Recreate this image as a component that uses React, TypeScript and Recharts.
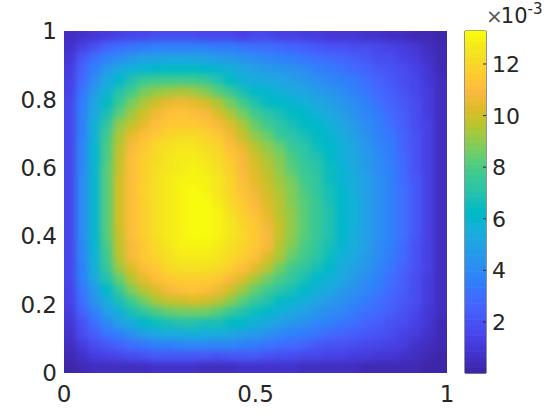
import React from "react";
import { ScatterChart, Scatter, XAxis, YAxis, ReferenceArea } from "recharts";

const xTicks = [0, 0.5, 1];
const yTicks = [0, 0.2, 0.4, 0.6, 0.8, 1];
const barTicks = [2, 4, 6, 8, 10, 12];
const valueMin = 0.02;
const valueMax = 13.28;

// field values (x 10^-3), rows from top (y=1) to bottom (y=0), columns from x=0 to x=1
const fieldRows: number[][] = [
  [.4,.7,.9,1.1,1.3,1.4,1.5,1.6,1.6,1.6,1.6,1.5,1.5,1.4,1.3,1.4,1.4,1.3,1.2,1.1,1.0,.9,.8,.8,.7,.6,.5,.4,.3,.2,.1],
  [.6,1.3,2.0,2.5,2.9,3.2,3.4,3.5,3.6,3.6,3.6,3.5,3.4,3.3,3.1,3.0,2.9,2.7,2.6,2.4,2.2,2.0,1.9,1.7,1.6,1.4,1.2,1.0,.8,.5,.2],
  [.9,2.1,3.0,3.6,4.1,4.5,4.8,4.9,5.0,5.1,5.0,4.9,4.7,4.5,4.2,4.0,3.8,3.6,3.4,3.2,3.0,2.7,2.5,2.3,2.1,1.8,1.6,1.3,1.0,.7,.3],
  [1.1,2.5,3.6,4.5,5.2,5.7,6.0,6.2,6.3,6.3,6.3,6.1,5.9,5.6,5.2,4.8,4.6,4.4,4.2,4.0,3.7,3.4,3.1,2.8,2.5,2.2,1.9,1.6,1.2,.8,.3],
  [1.2,2.8,4.0,5.2,6.2,7.0,7.5,7.8,7.9,7.9,7.8,7.5,7.0,6.4,5.8,5.4,5.2,5.0,4.8,4.5,4.2,3.9,3.6,3.3,2.9,2.5,2.2,1.8,1.4,.9,.4],
  [1.3,3.2,4.6,5.8,7.0,7.9,8.6,9.0,9.3,9.4,9.2,8.8,8.3,7.6,6.8,6.1,5.9,5.6,5.3,5.0,4.7,4.4,4.0,3.6,3.2,2.8,2.4,2.0,1.5,1.0,.4],
  [1.4,3.4,5.0,6.3,7.7,8.7,9.4,10.1,10.6,10.8,10.6,10.2,9.5,8.7,7.8,6.9,6.4,6.1,5.9,5.6,5.2,4.8,4.4,4.0,3.5,3.0,2.6,2.1,1.6,1.1,.4],
  [1.5,3.5,5.3,6.8,8.3,9.3,10.1,10.7,11.1,11.3,11.2,10.9,10.3,9.5,8.6,7.8,7.1,6.7,6.3,6.1,5.7,5.2,4.8,4.3,3.8,3.3,2.8,2.3,1.7,1.1,.4],
  [1.5,3.6,5.6,7.4,9.0,9.9,10.6,11.1,11.5,11.7,11.7,11.4,11.0,10.3,9.4,8.5,7.8,7.2,6.8,6.4,6.1,5.6,5.1,4.6,4.1,3.5,3.0,2.4,1.8,1.2,.5],
  [1.5,3.7,5.8,7.8,9.5,10.6,11.2,11.7,12.1,12.2,12.2,12.0,11.6,10.8,9.9,9.1,8.4,7.7,7.2,6.8,6.3,5.9,5.4,4.9,4.3,3.7,3.1,2.5,1.9,1.2,.5],
  [1.5,3.8,5.9,8.0,9.8,11.0,11.7,12.2,12.5,12.6,12.6,12.3,12.0,11.2,10.5,9.8,9.1,8.4,7.7,7.2,6.6,6.1,5.6,5.1,4.5,3.9,3.3,2.6,1.9,1.3,.5],
  [1.5,3.9,6.0,8.1,10.0,11.1,11.8,12.3,12.6,12.8,12.8,12.6,12.2,11.6,10.9,10.2,9.5,8.8,8.0,7.4,6.9,6.3,5.8,5.2,4.6,4.0,3.4,2.7,2.0,1.3,.5],
  [1.5,3.9,6.0,8.2,10.0,11.1,11.9,12.4,12.7,12.9,13.0,12.8,12.4,11.8,11.0,10.4,9.7,9.0,8.3,7.7,7.1,6.5,5.9,5.3,4.7,4.1,3.5,2.8,2.0,1.3,.5],
  [1.5,4.0,6.0,8.3,10.1,11.1,11.9,12.5,12.8,13.0,13.1,13.0,12.6,12.0,11.2,10.6,10.0,9.3,8.6,7.9,7.3,6.6,6.0,5.4,4.8,4.2,3.5,2.8,2.1,1.3,.5],
  [1.5,4.0,6.0,8.3,10.1,11.1,12.0,12.5,12.9,13.1,13.2,13.1,12.7,12.1,11.3,10.8,10.2,9.5,8.8,8.1,7.4,6.7,6.1,5.5,4.9,4.2,3.6,2.9,2.1,1.3,.5],
  [1.5,4.0,6.0,8.3,10.1,11.1,11.9,12.5,12.9,13.15,13.25,13.2,12.9,12.3,11.5,11.0,10.3,9.6,8.9,8.2,7.5,6.8,6.2,5.6,4.9,4.3,3.6,2.9,2.1,1.3,.5],
  [1.5,4.0,6.0,8.3,10.1,11.1,11.9,12.5,12.9,13.1,13.25,13.2,13.0,12.5,11.8,11.2,10.5,9.8,9.0,8.3,7.6,6.9,6.2,5.6,4.9,4.3,3.6,2.9,2.1,1.3,.5],
  [1.5,4.0,6.0,8.3,10.1,11.1,11.9,12.5,12.9,13.1,13.25,13.2,13.0,12.6,12.1,11.6,10.8,9.9,9.0,8.3,7.6,6.9,6.2,5.6,4.9,4.3,3.6,2.9,2.1,1.3,.5],
  [1.5,4.0,6.0,8.2,10.0,11.1,11.8,12.4,12.9,13.1,13.25,13.2,13.0,12.6,12.2,11.7,11.0,10.0,9.1,8.3,7.6,6.9,6.2,5.5,4.9,4.2,3.6,2.9,2.1,1.3,.5],
  [1.5,3.9,6.0,8.1,9.9,11.0,11.7,12.3,12.7,13.0,13.1,13.1,12.9,12.5,12.1,11.6,10.9,9.8,8.8,8.1,7.4,6.7,6.0,5.4,4.8,4.1,3.5,2.8,2.0,1.3,.5],
  [1.5,3.8,5.8,7.8,9.6,10.9,11.5,12.0,12.5,12.8,12.9,12.8,12.6,12.2,11.8,11.2,10.4,9.4,8.4,7.8,7.1,6.5,5.8,5.2,4.6,4.0,3.4,2.7,2.0,1.2,.5],
  [1.4,3.7,5.6,7.5,9.2,10.4,11.1,11.7,12.2,12.4,12.5,12.4,12.2,11.8,11.2,10.5,9.6,8.7,7.9,7.3,6.7,6.1,5.5,4.9,4.4,3.8,3.2,2.6,1.9,1.2,.5],
  [1.4,3.5,5.2,7.0,8.5,9.7,10.5,11.1,11.6,11.8,11.9,11.8,11.5,11.0,10.3,9.5,8.7,8.0,7.3,6.8,6.2,5.7,5.2,4.6,4.1,3.6,3.0,2.4,1.8,1.1,.5],
  [1.3,3.2,4.7,6.2,7.6,8.8,9.7,10.4,10.9,11.2,11.3,11.2,10.8,10.1,9.3,8.5,7.9,7.2,6.7,6.2,5.7,5.2,4.7,4.3,3.8,3.3,2.8,2.3,1.7,1.1,.5],
  [1.2,2.9,4.2,5.5,6.8,7.8,8.7,9.4,9.9,10.2,10.3,10.1,9.7,9.0,8.2,7.5,7.0,6.4,5.9,5.5,5.1,4.7,4.3,3.9,3.4,3.0,2.6,2.1,1.6,1.0,.4],
  [1.1,2.5,3.7,4.8,5.8,6.8,7.4,8.0,8.5,8.7,8.7,8.6,8.2,7.6,7.0,6.6,6.2,5.7,5.3,4.9,4.5,4.1,3.8,3.4,3.0,2.7,2.3,1.9,1.4,.9,.4],
  [.9,2.0,3.0,3.9,4.8,5.5,6.1,6.5,6.8,6.9,6.9,6.8,6.7,6.4,6.1,5.7,5.3,4.9,4.5,4.2,3.9,3.5,3.2,2.9,2.6,2.3,2.0,1.6,1.2,.8,.3],
  [.7,1.6,2.4,3.1,3.7,4.3,4.8,5.2,5.4,5.5,5.6,5.5,5.4,5.2,4.9,4.6,4.3,3.9,3.6,3.3,3.1,2.8,2.6,2.4,2.1,1.9,1.6,1.3,1.0,.6,.3],
  [.5,1.1,1.6,2.1,2.5,2.9,3.2,3.5,3.7,3.8,3.9,3.9,3.9,3.8,3.6,3.4,3.1,2.9,2.7,2.5,2.2,2.0,1.9,1.7,1.5,1.4,1.2,1.0,.7,.5,.2],
  [.3,.7,1.0,1.3,1.5,1.7,1.9,2.1,2.1,2.1,2.2,2.1,2.0,2.1,2.1,2.1,1.9,1.7,1.6,1.5,1.4,1.3,1.2,1.1,1.0,.9,.8,.6,.5,.3,.1],
  [.1,.3,.5,.5,.4,.4,.5,.6,.6,.6,.6,.5,.4,.5,.6,.7,.7,.6,.6,.5,.5,.5,.4,.4,.3,.3,.3,.2,.2,.1,.1],
];

// parula colormap, 64 levels
const parula: number[][] = [
  [.2422,.1504,.6603],[.2504,.1650,.7076],[.2578,.1818,.7511],[.2647,.1978,.7952],
  [.2706,.2147,.8364],[.2751,.2342,.8710],[.2783,.2559,.8991],[.2803,.2782,.9221],
  [.2813,.3006,.9414],[.2810,.3228,.9579],[.2795,.3447,.9717],[.2760,.3667,.9829],
  [.2699,.3892,.9906],[.2602,.4123,.9952],[.2440,.4358,.9988],[.2206,.4603,.9973],
  [.1963,.4847,.9892],[.1834,.5074,.9798],[.1786,.5289,.9682],[.1764,.5499,.9520],
  [.1687,.5703,.9359],[.1540,.5902,.9218],[.1460,.6091,.9079],[.1380,.6276,.8973],
  [.1248,.6459,.8883],[.1113,.6635,.8763],[.0952,.6798,.8598],[.0689,.6948,.8394],
  [.0297,.7082,.8163],[.0036,.7203,.7917],[.0067,.7312,.7660],[.0433,.7411,.7394],
  [.0964,.7500,.7120],[.1408,.7584,.6842],[.1717,.7670,.6554],[.1938,.7758,.6251],
  [.2161,.7843,.5923],[.2470,.7918,.5567],[.2906,.7973,.5188],[.3406,.8008,.4789],
  [.3909,.8029,.4354],[.4456,.8024,.3909],[.5044,.7993,.3480],[.5616,.7942,.3045],
  [.6174,.7876,.2612],[.6720,.7793,.2227],[.7242,.7698,.1910],[.7738,.7598,.1646],
  [.8203,.7498,.1535],[.8634,.7406,.1596],[.9035,.7330,.1774],[.9393,.7288,.2100],
  [.9728,.7298,.2394],[.9956,.7434,.2371],[.9970,.7659,.2199],[.9952,.7861,.1991],
  [.9892,.8086,.1816],[.9786,.8303,.1644],[.9676,.8535,.1482],[.9610,.8770,.1380],
  [.9597,.9000,.1235],[.9628,.9230,.1020],[.9690,.9520,.0750],[.9763,.9831,.0538],
];

const colorFor = (v: number) => {
  const t = (v - valueMin) / (valueMax - valueMin);
  const i = Math.max(0, Math.min(63, Math.round(t * 63)));
  const [r, g, b] = parula[i];
  return `rgb(${Math.round(r * 255)},${Math.round(g * 255)},${Math.round(b * 255)})`;
};

const N = fieldRows.length;
const fieldData = fieldRows.flatMap((row, i) =>
  row.map((value, j) => ({ x: (j + 0.5) / N, y: 1 - (i + 0.5) / N, value, i, j }))
);
const barData = parula.map((_, k) => ({
  x: 0.5,
  y: valueMin + ((k + 0.5) / 64) * (valueMax - valueMin),
  value: valueMin + (k / 63) * (valueMax - valueMin),
}));

const INK = "#262626";
const FONT = "'DejaVu Sans'";
const FS = 23;
const PLOT = { left: 64, top: 31, w: 383, h: 342 };
const BAR = { left: 465, w: 21 };

const HeatCell = (p: any) => {
  const cw = PLOT.w / N;
  const ch = PLOT.h / N;
  const { i, j, value } = p.payload;
  const ext = 24;
  const x0 = p.cx - cw / 2 - 0.5 - (j === 0 ? ext : 0);
  const x1 = p.cx + cw / 2 + 0.5 + (j === N - 1 ? ext : 0);
  const y0 = p.cy - ch / 2 - 0.5 - (i === 0 ? ext : 0);
  const y1 = p.cy + ch / 2 + 0.5 + (i === N - 1 ? ext : 0);
  return <rect x={x0} y={y0} width={x1 - x0} height={y1 - y0} fill={colorFor(value)} />;
};

const BarCell = (p: any) => {
  const h = PLOT.h / 64;
  return (
    <rect
      x={p.cx - BAR.w / 2}
      y={p.cy - h / 2 - 0.3}
      width={BAR.w}
      height={h + 0.6}
      fill={colorFor(p.payload.value)}
    />
  );
};

const BarTick = (p: any) => (
  <g>
    <line x1={BAR.left + BAR.w - 3} x2={BAR.left + BAR.w} y1={p.y} y2={p.y} stroke={INK} strokeWidth={1} />
    <text x={492} y={p.y} dy="0.36em" fontSize={22} fontFamily={FONT} fill={INK}>
      {p.payload.value}
    </text>
  </g>
);

export default function App() {
  return (
    <div style={{ position: "absolute", left: 0, top: 0, width: 560, height: 420, background: "#fff" }}>
      <style>{`.heat-layer{filter:blur(3px);clip-path:url(#plotClip);}`}</style>
      <div style={{ position: "absolute", left: 0, top: 0 }}>
        <ScatterChart width={560} height={420} margin={{ top: PLOT.top, left: 4, right: 113, bottom: 7 }}>
          <defs>
            <clipPath id="plotClip">
              <rect x={PLOT.left} y={PLOT.top} width={PLOT.w} height={PLOT.h} />
            </clipPath>
          </defs>
          <XAxis
            type="number"
            dataKey="x"
            domain={[0, 1]}
            ticks={xTicks}
            height={40}
            axisLine={false}
            tickLine={false}
            interval={0}
            tickMargin={7}
            tick={{ fontSize: FS, fontFamily: FONT, fill: INK }}
          />
          <YAxis
            type="number"
            dataKey="y"
            domain={[0, 1]}
            ticks={yTicks}
            width={60}
            axisLine={false}
            tickLine={false}
            interval={0}
            tickMargin={1}
            tick={{ fontSize: FS, fontFamily: FONT, fill: INK }}
          />
          <Scatter className="heat-layer" data={fieldData} isAnimationActive={false} shape={HeatCell} />
        </ScatterChart>
      </div>
      <div style={{ position: "absolute", left: 0, top: 0 }}>
        <ScatterChart width={560} height={420} margin={{ top: PLOT.top, left: BAR.left, right: 34, bottom: 47 }}>
          <XAxis type="number" dataKey="x" domain={[0, 1]} hide />
          <YAxis
            type="number"
            dataKey="y"
            orientation="right"
            domain={[valueMin, valueMax]}
            ticks={barTicks}
            width={40}
            axisLine={false}
            tickLine={false}
            interval={0}
            tick={BarTick}
          />
          <Scatter data={barData} isAnimationActive={false} shape={BarCell} />
          <ReferenceArea
            x1={0}
            x2={1}
            y1={valueMin}
            y2={valueMax}
            fill="none"
            stroke={INK}
            strokeWidth={1}
            ifOverflow="visible"
          />
          <text x={486} y={23} fontFamily={FONT} fill={INK}>
            <tspan fontSize={20} fill="#555">×</tspan>
            <tspan fontSize={21} dx={-2}>10</tspan>
            <tspan fontSize={15} dy={-9}>-3</tspan>
          </text>
        </ScatterChart>
      </div>
    </div>
  );
}
